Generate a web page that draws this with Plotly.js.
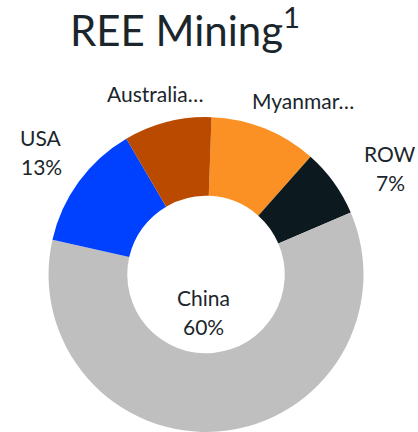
<!DOCTYPE html>
<html>
<head>
<meta charset="utf-8">
<script src="https://cdn.plot.ly/plotly-3.0.1.min.js"></script>
<style>html,body{margin:0;padding:0;background:#fff;}#chart{width:418px;height:432px;}</style>
</head>
<body>
<div id="chart"></div>
<script>
// Data (slice order clockwise from the top)
const categories = ["Myanmar", "ROW", "China", "USA", "Australia"];
const shareValues = [11, 7, 60, 13, 9];
const displayNames = ["Myanmar\u2026", "ROW", "China", "USA", "Australia\u2026"];
const showPercent = [false, true, true, true, false];
const sliceColors = ["#FB9125", "#0C191E", "#BFBFBF", "#0040FF", "#B94A00"];

const W = 418, H = 432;
const FONT = "Lato, 'Open Sans', sans-serif";
const TXT = "#1A262C";

// label anchor positions in pixels (layout, not data)
const labelPos = {
  "Myanmar": {x: 303, y: 100},
  "ROW": {x: 390, y: 153},
  "China": {x: 203, y: 297},
  "USA": {x: 41, y: 137},
  "Australia": {x: 155, y: 94}
};
const LINE = 29;

const total = shareValues.reduce((a, b) => a + b, 0);
const annotations = [];
categories.forEach((c, i) => {
  const p = labelPos[c];
  annotations.push({
    xref: "paper", yref: "paper", x: p.x / W, y: 1 - p.y / H,
    xanchor: "center", yanchor: "middle", showarrow: false,
    text: displayNames[i], font: {family: FONT, size: 21, color: TXT}
  });
  if (showPercent[i]) {
    annotations.push({
      xref: "paper", yref: "paper", x: p.x / W, y: 1 - (p.y + LINE) / H,
      xanchor: "center", yanchor: "middle", showarrow: false,
      text: Math.round(shareValues[i] / total * 100) + "%",
      font: {family: FONT, size: 21, color: TXT}
    });
  }
});

const cx = 206, r = 158;
const trace = {
  type: "pie",
  labels: categories,
  values: shareValues,
  hole: 0.5,
  sort: false,
  direction: "clockwise",
  rotation: 2,
  textinfo: "none",
  hoverinfo: "label+percent",
  marker: {colors: sliceColors, line: {width: 0}},
  domain: {x: [(cx - r) / W, (cx + r) / W], y: [0, 0.729]},
  showlegend: false
};

const layout = {
  width: W, height: H,
  margin: {l: 0, r: 0, t: 0, b: 0},
  paper_bgcolor: "#fff",
  title: {
    text: "REE Mining<sup>1</sup>",
    x: 185 / W, xanchor: "center",
    y: 1 - 31 / H, yanchor: "middle",
    font: {family: FONT, size: 42, color: TXT}
  },
  annotations: annotations,
  showlegend: false
};

Plotly.newPlot("chart", [trace], layout, {displayModeBar: false, staticPlot: true});
</script>
</body>
</html>
